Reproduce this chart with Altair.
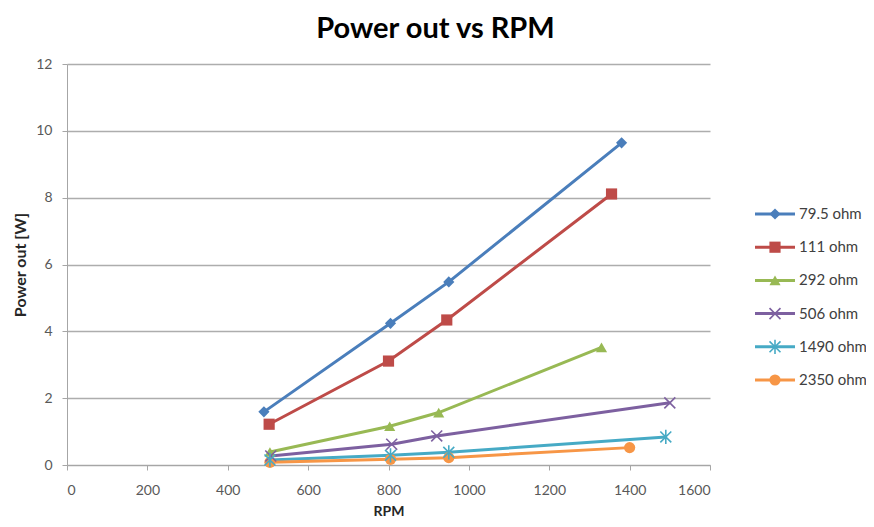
import altair as alt
import pandas as pd

series = ["79.5 ohm", "111 ohm", "292 ohm", "506 ohm", "1490 ohm", "2350 ohm"]
rpm = [
    [490, 805, 950, 1380],
    [503, 800, 945, 1355],
    [505, 803, 925, 1330],
    [507, 808, 920, 1500],
    [505, 805, 950, 1490],
    [505, 805, 950, 1400],
]
power = [
    [1.59, 4.24, 5.48, 9.64],
    [1.22, 3.11, 4.34, 8.11],
    [0.39, 1.16, 1.57, 3.52],
    [0.27, 0.62, 0.87, 1.86],
    [0.15, 0.29, 0.38, 0.84],
    [0.08, 0.17, 0.22, 0.52],
]
colors = ["#4A7EBB", "#BE4B48", "#98B954", "#7D60A0", "#46AAC5", "#F79646"]
shapes = ["diamond", "square", "triangle-up",
          "M-1,-1L1,1M-1,1L1,-1",
          "M-1,-1L1,1M-1,1L1,-1M0,-1.3L0,1.3",
          "circle"]
open_series = ["506 ohm", "1490 ohm"]
filled_series = [s for s in series if s not in open_series]

rows = []
for i, s in enumerate(series):
    for r, p in zip(rpm[i], power[i]):
        rows.append({"series": s, "idx": i, "rpm": r, "power": p})
df = pd.DataFrame(rows)
leg_df = pd.DataFrame({"series": series, "idx": list(range(len(series)))})

FONT = "Lato"
W, H = 643, 401
FILLED_SIZE, OPEN_SIZE = 125, 120

color = alt.Color("series:N", scale=alt.Scale(domain=series, range=colors), legend=None)
shape = alt.Shape("series:N", scale=alt.Scale(domain=series, range=shapes), legend=None)

x = alt.X("rpm:Q", title="RPM",
          scale=alt.Scale(domain=[0, 1600], nice=False),
          axis=alt.Axis(values=list(range(0, 1601, 200)), format="d", grid=False, tickSize=5,
                        labelPadding=13, titlePadding=7, domainColor="#A6A6A6",
                        tickColor="#A6A6A6", labelColor="#595959", labelFontSize=14,
                        titleFontSize=14, titleFontWeight="bold", titleColor="#262626",
                        labelFont=FONT, titleFont=FONT))
y = alt.Y("power:Q", title="Power out [W]",
          scale=alt.Scale(domain=[0, 12], nice=False),
          axis=alt.Axis(values=list(range(0, 13, 2)), grid=True, gridColor="#ADADAD",
                        gridWidth=1.5, tickSize=5, labelPadding=10, titlePadding=7,
                        domainColor="#A6A6A6", tickColor="#A6A6A6", labelColor="#595959",
                        labelFontSize=14, titleFontSize=16, titleFontWeight="bold",
                        titleColor="#262626", labelFont=FONT, titleFont=FONT))

base = alt.Chart(df)
lines = base.mark_line(strokeWidth=3).encode(x=x, y=y, color=color,
                                             order=alt.Order("rpm:Q"))
pts_filled = base.transform_filter(
    alt.FieldOneOfPredicate(field="series", oneOf=filled_series)
).mark_point(filled=True, size=FILLED_SIZE, opacity=1).encode(x=x, y=y, color=color, shape=shape)
pts_open = base.transform_filter(
    alt.FieldOneOfPredicate(field="series", oneOf=open_series)
).mark_point(filled=False, size=OPEN_SIZE, strokeWidth=1.6, opacity=1).encode(x=x, y=y, color=color, shape=shape)

main = alt.layer(lines, pts_filled, pts_open)

# legend (drawn to the right of the plot area)
LX0, LX1 = 688, 728
ly = alt.Y("idx:Q", scale=alt.Scale(domain=[0, len(series) - 1], range=[150, 316], nice=False,
                                    zero=False), axis=None)
lbase = alt.Chart(leg_df)
leg_line = lbase.mark_rule(strokeWidth=3).encode(y=ly, x=alt.value(LX0), x2=alt.value(LX1), color=color)
leg_pf = lbase.transform_filter(
    alt.FieldOneOfPredicate(field="series", oneOf=filled_series)
).mark_point(filled=True, size=FILLED_SIZE, opacity=1).encode(y=ly, x=alt.value((LX0 + LX1) / 2), color=color, shape=shape)
leg_po = lbase.transform_filter(
    alt.FieldOneOfPredicate(field="series", oneOf=open_series)
).mark_point(filled=False, size=OPEN_SIZE, strokeWidth=1.6, opacity=1).encode(y=ly, x=alt.value((LX0 + LX1) / 2), color=color, shape=shape)
leg_txt = lbase.mark_text(align="left", baseline="middle", dx=4, fontSize=15, font=FONT,
                          color="#404040").encode(y=ly, x=alt.value(LX1), text="series:N")
legend = alt.layer(leg_line, leg_pf, leg_po, leg_txt)

chart = alt.layer(main, legend).resolve_scale(y="independent").properties(
    width=W, height=H,
    title=alt.TitleParams("Power out vs RPM", fontSize=29, font=FONT, fontWeight="bold",
                          color="#000000", anchor="middle", frame="group", offset=13,
                          dx=47),
    autosize=alt.AutoSizeParams(type="none"),
    padding={"left": 59, "top": 56, "right": 156, "bottom": 54},
    background="white",
).configure_view(stroke=None)

chart.save("out.html", embed_options={"renderer": "svg", "actions": False})
